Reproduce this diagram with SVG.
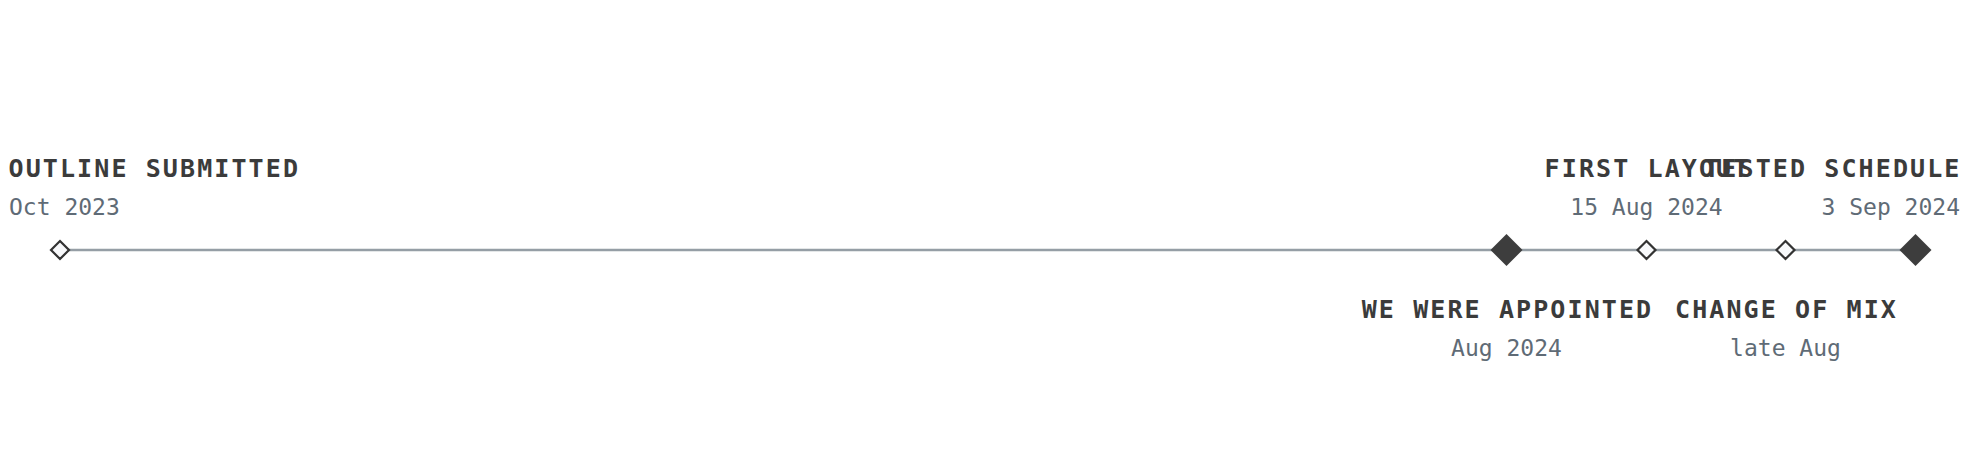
<svg xmlns="http://www.w3.org/2000/svg" width="1975" height="475" viewBox="0 0 1975 475">
  <style>
    .title { font-family: "DejaVu Sans Mono", monospace; font-weight: bold; font-size: 25px; letter-spacing: 2.1px; fill: #3b3b3b; }
    .date { font-family: "DejaVu Sans Mono", monospace; font-size: 23px; fill: #5f6b76; }
    .axis { stroke: #959ea5; stroke-width: 2.5; fill: none; }
    .major { fill: #3d3d3d; }
    .minor { fill: #f8f9fb; stroke: #333333; stroke-width: 2.2; }
  </style>
  <rect width="1975" height="475" fill="#ffffff"/>
  <g id="connectors">
    <line class="axis" x1="60" y1="250" x2="1915" y2="250"/>
  </g>
  <g id="outline-submitted">
    <path class="minor" d="M60 241 L69 250 L60 259 L51 250 Z"/>
    <text class="title" x="8.5" y="177">OUTLINE SUBMITTED</text>
    <text class="date" x="9" y="215">Oct 2023</text>
  </g>
  <g id="we-were-appointed">
    <path class="major" d="M1506.5 234 L1522.5 250 L1506.5 266 L1490.5 250 Z"/>
    <text class="title" x="1507.5" y="318" text-anchor="middle">WE WERE APPOINTED</text>
    <text class="date" x="1506.5" y="356" text-anchor="middle">Aug 2024</text>
  </g>
  <g id="first-layout">
    <path class="minor" d="M1646.5 241 L1655.5 250 L1646.5 259 L1637.5 250 Z"/>
    <text class="title" x="1647.5" y="177" text-anchor="middle">FIRST LAYOUT</text>
    <text class="date" x="1646.5" y="215" text-anchor="middle">15 Aug 2024</text>
  </g>
  <g id="change-of-mix">
    <path class="minor" d="M1785.5 241 L1794.5 250 L1785.5 259 L1776.5 250 Z"/>
    <text class="title" x="1786.5" y="318" text-anchor="middle">CHANGE OF MIX</text>
    <text class="date" x="1785.5" y="356" text-anchor="middle">late Aug</text>
  </g>
  <g id="tested-schedule">
    <path class="major" d="M1915.5 234 L1931.5 250 L1915.5 266 L1899.5 250 Z"/>
    <text class="title" x="1961.5" y="177" text-anchor="end">TESTED SCHEDULE</text>
    <text class="date" x="1960" y="215" text-anchor="end">3 Sep 2024</text>
  </g>
</svg>
